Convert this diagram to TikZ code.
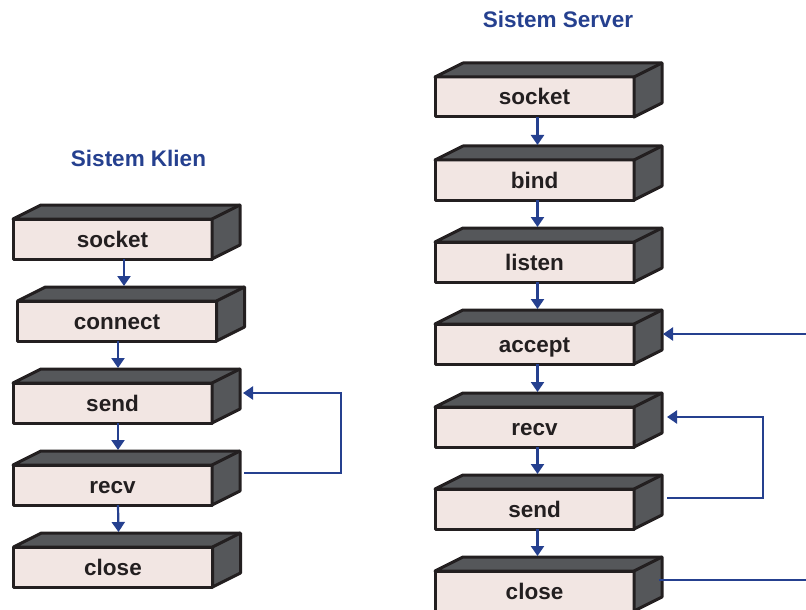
\documentclass[tikz,border=0pt]{standalone}
\usepackage{fontspec}
\setmainfont{Liberation Sans}
\usetikzlibrary{calc,arrows.meta}
\definecolor{facefront}{HTML}{F2E6E3}
\definecolor{facedark}{HTML}{55575A}
\definecolor{inkblack}{HTML}{231F20}
\definecolor{flowblue}{HTML}{25408F}
\tikzset{
  stepbox/.style={draw=inkblack, fill=facefront, line width=1.5pt, line join=round,
    minimum width=99.5pt, minimum height=20pt, inner sep=0pt, outer sep=0pt,
    text=inkblack, font=\fontsize{11.25}{13}\selectfont\bfseries,
    text height=8pt, text depth=0pt},
  cubeface/.style={draw=inkblack, fill=facedark, line width=1.5pt, line join=round},
  title/.style={text=flowblue, font=\fontsize{11.25}{13}\selectfont\bfseries,
    inner sep=0pt, text height=8pt, text depth=0pt},
  flow/.style={draw=flowblue, line width=1.1pt, -{Triangle[width=6.5pt,length=5pt]}},
  flowline/.style={draw=flowblue, line width=1.1pt}
}
\newcommand\cubebox[3]{%
  \node[stepbox] (#1) at (#2) {#3};
  \draw[cubeface] (#1.north west) -- ++(28,-14) -- ([shift={(28,-14)}]#1.north east)
     -- ([shift={(28,-14)}]#1.south east) -- (#1.south east) -- (#1.north east) -- cycle;
  \draw[cubeface] (#1.north east) -- ([shift={(28,-14)}]#1.north east);
}
\begin{document}
\begin{tikzpicture}[x=0.5pt,y=-0.5pt]
\useasboundingbox (0,0) rectangle (806,609);
% titles
\node[title] (tklien) at (138.5,159) {Sistem Klien};
\node[title] (tserver) at (558,20) {Sistem Server};
% client
\cubebox{csocket}{112.5,239}{socket}
\cubebox{cconnect}{117,321}{connect}
\cubebox{csend}{112.5,403}{send}
\cubebox{crecv}{112.5,485}{recv}
\cubebox{cclose}{113,567}{close}
\draw[flow] ($(csocket.south)+(11.5,0)$) -- ($(cconnect.north)+(7,-15)$);
\draw[flow] ($(cconnect.south)+(1,0)$) -- ($(csend.north)+(5.5,-15)$);
\draw[flow] ($(csend.south)+(5.5,0)$) -- ($(crecv.north)+(5.5,-15)$);
\draw[flow] ($(crecv.south)+(5.5,0)$) -- ($(cclose.north)+(5.5,-15)$);
\coordinate (cloopa) at ($(crecv.east)+(32,-12)$);
\coordinate (cloopb) at ($(csend.east)+(31,-10)$);
\coordinate (cloopx) at (341,0);
\draw[flow] (cloopa) -- (cloopa -| cloopx) -- (cloopb -| cloopx) -- (cloopb);
% server
\cubebox{ssocket}{534.5,97}{socket}
\cubebox{sbind}{534.5,180}{bind}
\cubebox{slisten}{534.5,262}{listen}
\cubebox{saccept}{534.5,344}{accept}
\cubebox{srecv}{534.5,427}{recv}
\cubebox{ssend}{534.5,509}{send}
\cubebox{sclose}{534.5,591}{close}
\draw[flow] ($(ssocket.south)+(3,0)$) -- ($(sbind.north)+(3,-15)$);
\draw[flow] ($(sbind.south)+(3,0)$) -- ($(slisten.north)+(3,-15)$);
\draw[flow] ($(slisten.south)+(3,0)$) -- ($(saccept.north)+(3,-15)$);
\draw[flow] ($(saccept.south)+(3,0)$) -- ($(srecv.north)+(3,-15)$);
\draw[flow] ($(srecv.south)+(3,0)$) -- ($(ssend.north)+(3,-15)$);
\draw[flow] ($(ssend.south)+(3,0)$) -- ($(sclose.north)+(3,-15)$);
\coordinate (sacceptin) at ($(saccept.east)+(29,-10)$);
\coordinate (sright) at (806,0);
\draw[flow] (sacceptin -| sright) -- (sacceptin);
\coordinate (sloopa) at ($(ssend.east)+(33,-11)$);
\coordinate (sloopb) at ($(srecv.east)+(33,-10)$);
\coordinate (sloopx) at (763,0);
\draw[flow] (sloopa) -- (sloopa -| sloopx) -- (sloopb -| sloopx) -- (sloopb);
\coordinate (scloseout) at ($(sclose.east)+(25,-11)$);
\draw[flowline] (scloseout) -- (scloseout -| sright);
\end{tikzpicture}
\end{document}
